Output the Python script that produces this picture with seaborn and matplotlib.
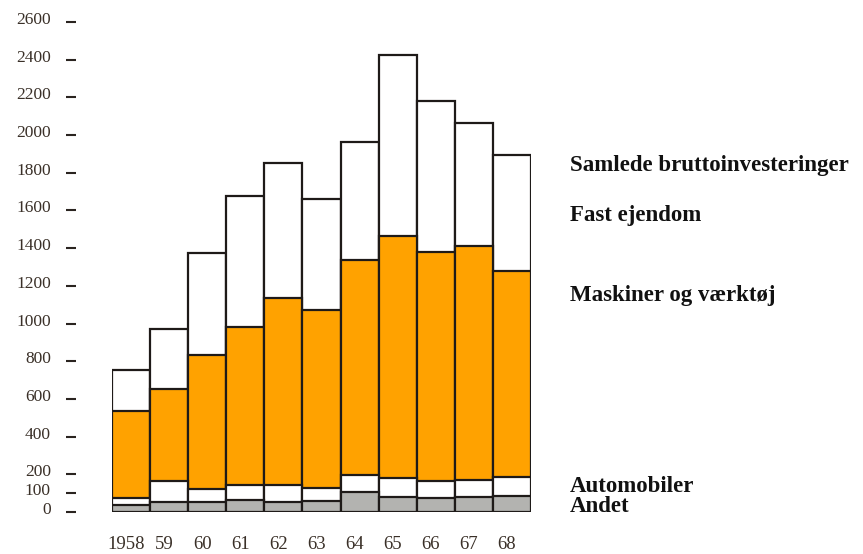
import numpy as np
import pandas as pd
import matplotlib
matplotlib.use('Agg')
import matplotlib.pyplot as plt
import matplotlib.transforms as mtransforms
import seaborn as sns

# data
years = ['1958', '59', '60', '61', '62', '63', '64', '65', '66', '67', '68']
andet = [35, 55, 55, 65, 55, 60, 105, 80, 75, 80, 85]
automobiler = [40, 110, 65, 80, 90, 70, 90, 100, 90, 90, 100]
maskiner = [460, 490, 715, 835, 990, 940, 1140, 1285, 1215, 1240, 1095]
fast_ejendom = [220, 315, 540, 695, 715, 590, 630, 960, 800, 655, 615]
yticks = [0, 100, 200, 400, 600, 800, 1000, 1200, 1400, 1600, 1800, 2000, 2200, 2400, 2600]
series_labels = ['Samlede bruttoinvesteringer', 'Fast ejendom', 'Maskiner og værktøj',
                 'Automobiler', 'Andet']

df = pd.DataFrame({'år': years, 'Andet': andet, 'Automobiler': automobiler,
                   'Maskiner': maskiner, 'Fast': fast_ejendom})
df['c1'] = df['Andet']
df['c2'] = df['c1'] + df['Automobiler']
df['c3'] = df['c2'] + df['Maskiner']
df['c4'] = df['c3'] + df['Fast']

sns.set_theme(style='white')
plt.rcParams['font.family'] = ['Liberation Serif', 'DejaVu Serif']

fig = plt.figure(figsize=(8.63, 5.54), dpi=100)
ax = fig.add_axes([112 / 863, 42 / 554, 419 / 863, 490 / 554])

edge = '#1e1a18'
# stacked bars drawn as overlapping cumulative layers
layers = [('c4', 'white'), ('c3', '#ffa200'), ('c2', 'white'), ('c1', '#b3b3b0')]
for col, colour in layers:
    sns.barplot(data=df, x='år', y=col, color=colour, width=1.0, edgecolor=edge,
                linewidth=1.6, saturation=1, ax=ax)

ax.set_xlim(-0.5, len(years) - 0.5)
ax.set_ylim(0, 2600)
ax.set_xlabel('')
ax.set_ylabel('')
for s in ax.spines.values():
    s.set_visible(False)
ax.spines['left'].set_position(('outward', 26))

ax.set_yticks(yticks)
ax.set_yticklabels([str(t) for t in yticks])
ax.tick_params(axis='y', left=True, length=7, width=1.5, color='#2a2420',
               labelsize=12.5, labelcolor='#3a3028', pad=11)
ax.tick_params(axis='x', bottom=False, length=0, labelsize=13.5, labelcolor='#3a3028', pad=17)

# labels sit a little above their tick marks / left of bar centres
up = mtransforms.ScaledTranslation(0, 4 / 100, fig.dpi_scale_trans)
for lab in ax.get_yticklabels():
    lab.set_transform(lab.get_transform() + up)
left = mtransforms.ScaledTranslation(-5 / 100, 0, fig.dpi_scale_trans)
for lab in ax.get_xticklabels():
    lab.set_transform(lab.get_transform() + left)

# series names at the right
label_y = [166, 216, 295, 487, 507]
for name, yy in zip(series_labels, label_y):
    fig.text(570 / 863, 1 - yy / 554, name, fontsize=16.5, fontweight='bold',
             color='#111111', va='center', ha='left')

plt.savefig('out.png', dpi=100)
plt.close()
